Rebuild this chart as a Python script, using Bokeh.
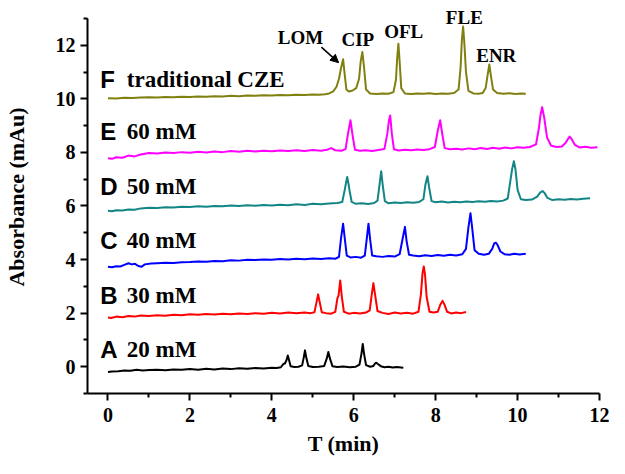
from bokeh.plotting import figure
from bokeh.models import Label, Arrow, NormalHead, FixedTicker, Range1d
from bokeh.embed import file_html
from bokeh.resources import INLINE

# ---------------- data ----------------
a_x = [0.00, 0.10, 0.25, 0.40, 0.55, 0.70, 0.85, 1.00, 1.20, 1.40, 1.60, 1.80, 2.00, 2.20, 2.40, 2.60, 2.80, 3.00, 3.20, 3.40, 3.60, 3.80, 4.00, 4.12, 4.22, 4.28, 4.32, 4.36, 4.39, 4.42, 4.46, 4.55, 4.65, 4.74, 4.78, 4.81, 4.84, 4.89, 5.00, 5.15, 5.28, 5.34, 5.38, 5.42, 5.48, 5.60, 5.75, 5.90, 6.05, 6.14, 6.19, 6.22, 6.25, 6.30, 6.40, 6.48, 6.52, 6.55, 6.59, 6.66, 6.75, 6.85, 6.95, 7.05, 7.21]
a_y = [-0.20, -0.18, -0.17, -0.14, -0.15, -0.11, -0.14, -0.12, -0.11, -0.13, -0.10, -0.11, -0.09, -0.11, -0.08, -0.10, -0.07, -0.09, -0.06, -0.08, -0.05, -0.07, -0.04, -0.05, -0.02, 0.10, 0.12, 0.25, 0.42, 0.25, 0.02, -0.01, 0.00, 0.05, 0.35, 0.61, 0.35, 0.03, -0.01, 0.00, 0.03, 0.30, 0.55, 0.30, 0.02, -0.01, 0.01, -0.02, 0.00, 0.08, 0.50, 0.85, 0.50, 0.06, 0.00, 0.03, 0.12, 0.15, 0.10, 0.02, -0.02, 0.00, -0.03, -0.01, -0.04]

b_x = [0.00, 0.08, 0.20, 0.35, 0.50, 0.65, 0.80, 1.00, 1.20, 1.40, 1.60, 1.80, 2.00, 2.20, 2.40, 2.60, 2.80, 3.00, 3.20, 3.40, 3.60, 3.80, 4.00, 4.20, 4.40, 4.60, 4.80, 4.95, 5.04, 5.09, 5.13, 5.17, 5.22, 5.32, 5.45, 5.55, 5.60, 5.63, 5.67, 5.71, 5.76, 5.88, 6.00, 6.15, 6.30, 6.39, 6.44, 6.48, 6.52, 6.58, 6.70, 6.85, 7.00, 7.15, 7.30, 7.45, 7.58, 7.64, 7.68, 7.71, 7.74, 7.78, 7.85, 7.95, 8.05, 8.11, 8.17, 8.22, 8.28, 8.38, 8.50, 8.62, 8.74]
b_y = [1.84, 1.82, 1.87, 1.85, 1.89, 1.87, 1.91, 1.89, 1.92, 1.90, 1.94, 1.92, 1.96, 1.94, 1.97, 1.95, 1.98, 1.96, 1.99, 1.97, 2.00, 1.98, 2.01, 1.99, 2.02, 2.00, 2.02, 2.00, 2.03, 2.40, 2.70, 2.40, 2.03, 2.00, 1.98, 2.05, 2.55, 2.66, 3.22, 2.60, 2.05, 1.98, 2.01, 1.99, 2.02, 2.10, 2.70, 3.12, 2.70, 2.08, 2.01, 1.97, 2.02, 1.99, 2.01, 1.98, 2.05, 2.70, 3.50, 3.74, 3.45, 2.60, 2.05, 2.02, 2.05, 2.30, 2.46, 2.30, 2.05, 1.99, 2.02, 2.00, 2.04]

c_x = [0.00, 0.10, 0.20, 0.30, 0.40, 0.50, 0.58, 0.66, 0.74, 0.82, 0.90, 1.05, 1.20, 1.40, 1.60, 1.80, 2.00, 2.20, 2.40, 2.60, 2.80, 3.00, 3.20, 3.40, 3.60, 3.80, 4.00, 4.20, 4.40, 4.60, 4.80, 5.00, 5.20, 5.40, 5.55, 5.64, 5.69, 5.74, 5.78, 5.83, 5.92, 6.05, 6.18, 6.27, 6.32, 6.36, 6.40, 6.45, 6.55, 6.70, 6.85, 7.00, 7.12, 7.19, 7.25, 7.29, 7.35, 7.45, 7.60, 7.75, 7.90, 8.05, 8.20, 8.35, 8.50, 8.65, 8.74, 8.80, 8.85, 8.89, 8.95, 9.05, 9.18, 9.30, 9.38, 9.43, 9.47, 9.51, 9.58, 9.68, 9.80, 9.92, 10.05, 10.20]
c_y = [3.73, 3.71, 3.75, 3.74, 3.80, 3.86, 3.82, 3.84, 3.76, 3.73, 3.82, 3.85, 3.86, 3.88, 3.87, 3.90, 3.91, 3.93, 3.92, 3.95, 3.94, 3.97, 3.96, 3.99, 3.98, 4.00, 3.99, 4.02, 4.00, 4.03, 4.01, 4.04, 4.02, 4.05, 4.03, 4.10, 4.80, 5.34, 4.80, 4.15, 4.08, 4.10, 4.07, 4.15, 4.80, 5.34, 4.75, 4.15, 4.12, 4.10, 4.13, 4.11, 4.20, 4.75, 5.22, 4.70, 4.18, 4.15, 4.12, 4.16, 4.13, 4.17, 4.14, 4.18, 4.15, 4.20, 4.40, 5.20, 5.73, 5.20, 4.35, 4.22, 4.18, 4.22, 4.40, 4.60, 4.63, 4.55, 4.30, 4.20, 4.18, 4.22, 4.19, 4.22]

d_x = [0.00, 0.10, 0.20, 0.35, 0.50, 0.65, 0.80, 1.00, 1.20, 1.40, 1.60, 1.80, 2.00, 2.20, 2.40, 2.60, 2.80, 3.00, 3.20, 3.40, 3.60, 3.80, 4.00, 4.20, 4.40, 4.60, 4.80, 5.00, 5.20, 5.40, 5.60, 5.72, 5.78, 5.81, 5.84, 5.87, 5.90, 5.95, 6.05, 6.20, 6.35, 6.50, 6.58, 6.63, 6.67, 6.71, 6.76, 6.85, 7.00, 7.15, 7.30, 7.45, 7.60, 7.70, 7.75, 7.80, 7.84, 7.90, 8.00, 8.15, 8.30, 8.45, 8.60, 8.75, 8.90, 9.05, 9.20, 9.35, 9.50, 9.65, 9.76, 9.82, 9.87, 9.91, 9.95, 10.00, 10.08, 10.20, 10.35, 10.48, 10.55, 10.61, 10.66, 10.73, 10.85, 11.00, 11.15, 11.30, 11.45, 11.60, 11.77]
d_y = [5.82, 5.80, 5.84, 5.83, 5.87, 5.86, 5.91, 5.93, 5.92, 5.95, 5.94, 5.97, 5.96, 5.99, 5.97, 6.00, 5.99, 6.02, 6.00, 6.03, 6.01, 6.04, 6.02, 6.05, 6.03, 6.06, 6.04, 6.08, 6.06, 6.09, 6.11, 6.15, 6.60, 6.85, 7.08, 6.85, 6.55, 6.15, 6.08, 6.10, 6.07, 6.11, 6.20, 6.80, 7.30, 6.75, 6.18, 6.10, 6.13, 6.11, 6.14, 6.12, 6.15, 6.25, 6.80, 7.11, 6.70, 6.18, 6.14, 6.17, 6.13, 6.16, 6.14, 6.17, 6.15, 6.18, 6.16, 6.19, 6.17, 6.20, 6.28, 6.90, 7.40, 7.67, 7.35, 6.60, 6.25, 6.22, 6.24, 6.35, 6.50, 6.56, 6.48, 6.30, 6.22, 6.25, 6.23, 6.26, 6.24, 6.27, 6.29]

e_x = [0.00, 0.10, 0.20, 0.35, 0.50, 0.65, 0.80, 1.00, 1.20, 1.40, 1.60, 1.80, 2.00, 2.20, 2.40, 2.60, 2.80, 3.00, 3.20, 3.40, 3.60, 3.80, 4.00, 4.20, 4.40, 4.60, 4.80, 5.00, 5.20, 5.35, 5.45, 5.55, 5.70, 5.80, 5.86, 5.92, 5.97, 6.03, 6.15, 6.30, 6.45, 6.60, 6.75, 6.82, 6.86, 6.89, 6.93, 6.98, 7.10, 7.25, 7.40, 7.55, 7.70, 7.85, 7.98, 8.05, 8.11, 8.16, 8.22, 8.35, 8.50, 8.65, 8.80, 8.95, 9.10, 9.25, 9.40, 9.55, 9.70, 9.85, 10.00, 10.15, 10.30, 10.45, 10.52, 10.56, 10.60, 10.65, 10.72, 10.82, 10.95, 11.08, 11.17, 11.23, 11.27, 11.32, 11.40, 11.52, 11.65, 11.80, 11.95]
e_y = [7.78, 7.76, 7.82, 7.80, 7.88, 7.85, 7.92, 7.98, 7.96, 8.00, 7.98, 8.01, 7.99, 8.02, 8.00, 8.03, 8.01, 8.05, 8.02, 8.06, 8.03, 8.06, 8.04, 8.07, 8.05, 8.08, 8.05, 8.09, 8.06, 8.10, 8.16, 8.08, 8.06, 8.12, 8.70, 9.20, 8.65, 8.10, 8.06, 8.08, 8.05, 8.09, 8.13, 8.70, 9.20, 9.38, 8.70, 8.12, 8.07, 8.10, 8.08, 8.11, 8.09, 8.12, 8.20, 8.80, 9.20, 8.70, 8.16, 8.12, 8.14, 8.11, 8.15, 8.12, 8.16, 8.13, 8.17, 8.14, 8.18, 8.15, 8.19, 8.17, 8.20, 8.30, 8.90, 9.40, 9.69, 9.30, 8.55, 8.25, 8.20, 8.22, 8.35, 8.50, 8.59, 8.50, 8.28, 8.18, 8.21, 8.17, 8.19]

f_x = [0.00, 0.20, 0.40, 0.60, 0.80, 1.00, 1.20, 1.40, 1.60, 1.80, 2.00, 2.20, 2.40, 2.60, 2.80, 3.00, 3.20, 3.40, 3.60, 3.80, 4.00, 4.20, 4.40, 4.60, 4.80, 5.00, 5.15, 5.30, 5.40, 5.50, 5.58, 5.64, 5.69, 5.74, 5.78, 5.82, 5.88, 5.96, 6.06, 6.13, 6.17, 6.21, 6.25, 6.30, 6.40, 6.55, 6.70, 6.85, 6.97, 7.03, 7.06, 7.09, 7.12, 7.16, 7.25, 7.40, 7.55, 7.70, 7.85, 8.00, 8.15, 8.30, 8.45, 8.56, 8.61, 8.64, 8.67, 8.70, 8.74, 8.80, 8.92, 9.05, 9.15, 9.22, 9.27, 9.31, 9.35, 9.40, 9.50, 9.65, 9.80, 9.95, 10.08, 10.20]
f_y = [10.02, 10.01, 10.04, 10.03, 10.05, 10.06, 10.05, 10.07, 10.06, 10.08, 10.07, 10.09, 10.08, 10.10, 10.09, 10.11, 10.10, 10.12, 10.11, 10.13, 10.12, 10.14, 10.13, 10.15, 10.14, 10.16, 10.15, 10.17, 10.20, 10.28, 10.45, 10.75, 11.15, 11.48, 10.90, 10.35, 10.27, 10.30, 10.40, 10.75, 11.40, 11.75, 11.20, 10.35, 10.20, 10.18, 10.20, 10.19, 10.25, 10.70, 11.50, 12.06, 11.40, 10.40, 10.20, 10.18, 10.20, 10.19, 10.21, 10.18, 10.20, 10.19, 10.22, 10.35, 11.20, 12.20, 12.70, 12.10, 11.00, 10.30, 10.20, 10.19, 10.22, 10.40, 10.90, 11.28, 10.85, 10.35, 10.22, 10.19, 10.21, 10.18, 10.20, 10.19]

series_letters = ["A", "B", "C", "D", "E", "F"]
series_names = ["20 mM", "30 mM", "40 mM", "50 mM", "60 mM", "traditional CZE"]
series_label_y = [0.66, 2.65, 4.71, 6.74, 8.78, 10.72]
series_colors = ["#000000", "#ff0000", "#0000ff", "#138585", "#ff00ff", "#808010"]

peak_names = ["LOM", "CIP", "OFL", "FLE", "ENR"]
peak_label_x = [4.70, 6.10, 7.22, 8.70, 9.48]
peak_label_y = [12.30, 12.23, 12.52, 13.04, 11.62]

x_ticks = [0, 2, 4, 6, 8, 10, 12]
x_minor = [1, 3, 5, 7, 9, 11]
y_ticks = [0, 2, 4, 6, 8, 10, 12]
y_minor = [-1, 1, 3, 5, 7, 9, 11, 13]

SERIF = "Liberation Serif"
SANS = "Liberation Sans"

p = figure(width=609, height=458, output_backend="svg", toolbar_location=None,
           x_range=Range1d(-0.5, 12), y_range=Range1d(-1, 13.67),
           min_border_left=87, min_border_right=10, min_border_top=0, min_border_bottom=60)
p.outline_line_color = None
p.xgrid.visible = False
p.ygrid.visible = False
p.background_fill_color = "white"
p.border_fill_color = "white"

traces = [(a_x, a_y), (b_x, b_y), (c_x, c_y), (d_x, d_y), (e_x, e_y), (f_x, f_y)]
for (xs, ys), col in zip(traces, series_colors):
    p.line(xs, ys, line_color=col, line_width=2, line_join="round")

for axis in (p.xaxis[0], p.yaxis[0]):
    axis.axis_line_width = 2
    axis.axis_line_color = "black"
    axis.major_tick_line_width = 2
    axis.minor_tick_line_width = 2
    axis.major_tick_out = 7
    axis.major_tick_in = 0
    axis.minor_tick_out = 4
    axis.minor_tick_in = 0
    axis.major_label_text_font = SERIF
    axis.major_label_text_font_style = "bold"
    axis.major_label_text_font_size = "20px"
    axis.major_label_text_color = "black"
    axis.axis_label_text_font = SERIF
    axis.axis_label_text_font_style = "bold"
    axis.axis_label_text_font_size = "22px"
    axis.axis_label_text_color = "black"

p.xaxis.ticker = FixedTicker(ticks=x_ticks, minor_ticks=x_minor)
p.yaxis.ticker = FixedTicker(ticks=y_ticks, minor_ticks=y_minor)
p.xaxis.bounds = (-0.5, 12)
p.yaxis.bounds = (-1, 13)
p.xaxis.axis_label = "T (min)"
p.yaxis.axis_label = "Absorbance (mAu)"
p.xaxis.major_label_standoff = 7
p.yaxis.major_label_standoff = 5
p.xaxis.axis_label_standoff = 6
p.yaxis.axis_label_standoff = 24

for letter, name, ly in zip(series_letters, series_names, series_label_y):
    p.add_layout(Label(x=-0.19, y=ly, text=letter, text_font=SANS, text_font_style="bold",
                       text_font_size="24px", text_baseline="middle", text_align="left",
                       text_color="black"))
    p.add_layout(Label(x=0.46, y=ly, text=name, text_font=SERIF, text_font_style="bold",
                       text_font_size="23px", text_baseline="middle", text_align="left",
                       text_color="black"))

for name, lx, ly in zip(peak_names, peak_label_x, peak_label_y):
    p.add_layout(Label(x=lx, y=ly, text=name, text_font=SERIF, text_font_style="bold",
                       text_font_size="19px", text_baseline="middle", text_align="center",
                       text_color="black"))

p.add_layout(Arrow(end=NormalHead(size=8, fill_color="black", line_color="black"),
                   x_start=5.21, y_start=11.93, x_end=5.63, y_end=11.35,
                   line_width=1.5, line_color="black"))

open("out.html", "w").write(file_html(p, INLINE))
